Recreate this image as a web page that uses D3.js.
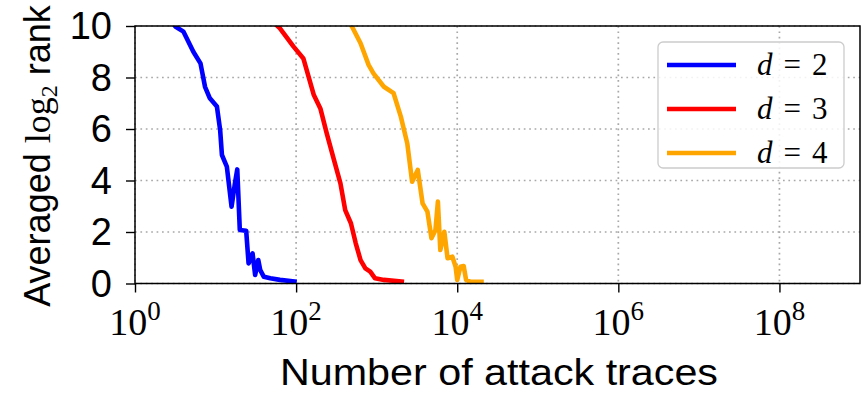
<!DOCTYPE html>
<html>
<head>
<meta charset="utf-8">
<script src="https://cdn.jsdelivr.net/npm/d3@7"></script>
<style>
  html, body { margin: 0; padding: 0; background: #fff; }
  svg { display: block; }
</style>
</head>
<body>
<svg id="chart" width="865" height="393"></svg>
<script>
// Averaged log2 key rank vs. number of attack traces, one curve per masking order d.
const tracesD2 = [2.5, 3.2, 4.0, 5.3, 6.5, 7.4, 8.5, 10.4, 11.4, 12, 13.8, 15.8, 17.4, 18.6, 20, 24, 25.7, 28.8, 31, 33.9, 35.9, 39.8, 47.9, 63, 102];
const rankD2   = [10.4, 9.97, 9.78, 9.0, 8.55, 7.64, 7.19, 6.87, 5.96, 4.99, 4.54, 2.98, 3.89, 4.43, 2.08, 2.05, 0.78, 1.17, 0.33, 0.91, 0.52, 0.26, 0.2, 0.14, 0.07];

const tracesD3 = [50, 63, 93, 123, 166, 200, 240, 295, 355, 407, 479, 550, 631, 724, 832, 955, 1230, 2190];
const rankD3   = [10.2, 9.91, 9.2, 8.74, 7.32, 6.8, 5.83, 4.8, 3.89, 2.85, 2.34, 1.56, 0.91, 0.59, 0.46, 0.2, 0.14, 0.07];

const tracesD4 = [447, 495, 631, 794, 912, 1230, 1622, 1995, 2400, 2754, 3236, 3715, 4266, 4786, 5370, 5754, 6166, 6918, 7586, 8710, 9550, 10000, 10965, 12023, 12882, 14454, 21380];
const rankD4   = [10.2, 9.97, 9.33, 8.49, 8.16, 7.64, 7.39, 6.48, 5.44, 3.95, 4.41, 3.11, 2.79, 1.76, 2.08, 3.18, 1.30, 2.01, 0.98, 1.04, 0.65, 0.14, 0.65, 0.68, 0.14, 0.07, 0.07];

const seriesNames  = ["2", "3", "4"];
const seriesColors = ["#0000ff", "#ff0000", "#ffa500"];

const xTickPowers = [0, 2, 4, 6, 8];
const yTicks = [0, 2, 4, 6, 8, 10];
const xDomain = [1, 1e9];
const yDomain = [0, 10];

const series = [
  { name: seriesNames[0], color: seriesColors[0], x: tracesD2, y: rankD2 },
  { name: seriesNames[1], color: seriesColors[1], x: tracesD3, y: rankD3 },
  { name: seriesNames[2], color: seriesColors[2], x: tracesD4, y: rankD4 }
];

const svg = d3.select("#chart");
const plot = { left: 135, right: 860, top: 26, bottom: 283.5 };

const x = d3.scaleLog().domain(xDomain).range([plot.left, plot.right]);
const y = d3.scaleLinear().domain(yDomain).range([plot.bottom, plot.top]);

const sansFont = "'Liberation Sans Narrow', 'Liberation Sans', 'DejaVu Sans', sans-serif";
const serifFont = "'Liberation Serif', 'DejaVu Serif', serif";

svg.append("defs").append("clipPath").attr("id", "plot-clip")
  .append("rect")
  .attr("x", plot.left).attr("y", plot.top)
  .attr("width", plot.right - plot.left).attr("height", plot.bottom - plot.top);

// dotted grid
const grid = svg.append("g").attr("stroke", "#a8a8a8").attr("stroke-width", 1.7)
  .attr("stroke-dasharray", "1.7,3.7");
grid.selectAll("line.gx").data(xTickPowers.map(p => Math.pow(10, p))).join("line")
  .attr("x1", d => x(d)).attr("x2", d => x(d))
  .attr("y1", plot.top).attr("y2", plot.bottom);
grid.selectAll("line.gy").data(yTicks).join("line")
  .attr("x1", plot.left).attr("x2", plot.right)
  .attr("y1", d => y(d)).attr("y2", d => y(d));

// curves
const line = d3.line().x(d => x(d[0])).y(d => y(d[1]));
svg.append("g").attr("clip-path", "url(#plot-clip)")
  .selectAll("path").data(series).join("path")
  .attr("d", s => line(s.x.map((v, i) => [v, s.y[i]])))
  .attr("fill", "none")
  .attr("stroke", s => s.color)
  .attr("stroke-width", 4.6)
  .attr("stroke-linejoin", "round")
  .attr("stroke-linecap", "butt");

// axes
const xAxis = d3.axisBottom(x)
  .tickValues(xTickPowers.map(p => Math.pow(10, p)))
  .tickSize(9).tickSizeOuter(0).tickFormat("");
const gx = svg.append("g").attr("transform", `translate(0,${plot.bottom})`).call(xAxis);
gx.select(".domain").remove();
gx.selectAll(".tick line").attr("stroke", "#000").attr("stroke-width", 1.4);

const yAxis = d3.axisLeft(y).tickValues(yTicks).tickSize(9).tickSizeOuter(0).tickFormat("");
const gy = svg.append("g").attr("transform", `translate(${plot.left},0)`).call(yAxis);
gy.select(".domain").remove();
gy.selectAll(".tick line").attr("stroke", "#000").attr("stroke-width", 1.4);

// x tick labels: 10 with superscript exponent
xTickPowers.forEach(p => {
  const t = svg.append("text")
    .attr("x", x(Math.pow(10, p)))
    .attr("y", 335)
    .attr("text-anchor", "middle")
    .attr("font-family", serifFont)
    .attr("font-size", 38)
    .attr("fill", "#000");
  t.append("tspan").text("10");
  t.append("tspan").attr("dy", -15).attr("font-size", 27).text(p);
});

// y tick labels
svg.append("g").selectAll("text").data(yTicks).join("text")
  .attr("x", 112)
  .attr("y", d => y(d) + 13)
  .attr("text-anchor", "end")
  .attr("font-family", sansFont)
  .attr("font-size", 38)
  .attr("fill", "#000")
  .text(d => d);

// frame
svg.append("rect")
  .attr("x", plot.left).attr("y", plot.top)
  .attr("width", plot.right - plot.left).attr("height", plot.bottom - plot.top)
  .attr("fill", "none").attr("stroke", "#000").attr("stroke-width", 1.5);

// axis titles
svg.append("text")
  .attr("x", 499).attr("y", 385)
  .attr("text-anchor", "middle")
  .attr("font-family", sansFont)
  .attr("font-size", 37)
  .attr("textLength", 438).attr("lengthAdjust", "spacingAndGlyphs")
  .attr("fill", "#000")
  .text("Number of attack traces");

const yl = svg.append("text")
  .attr("transform", "translate(50,156) rotate(-90)")
  .attr("text-anchor", "middle")
  .attr("font-family", sansFont)
  .attr("font-size", 36)
  .attr("fill", "#000");
yl.append("tspan").text("Averaged ");
yl.append("tspan").attr("font-family", serifFont).text("log");
yl.append("tspan").attr("font-family", serifFont).attr("font-size", 24).attr("dy", 7).text("2");
yl.append("tspan").attr("dy", -7).text(" rank");

// legend
const legend = svg.append("g");
legend.append("rect")
  .attr("x", 658).attr("y", 42).attr("width", 186).attr("height", 126)
  .attr("rx", 5).attr("ry", 5)
  .attr("fill", "#fff").attr("fill-opacity", 0.85)
  .attr("stroke", "#cccccc").attr("stroke-width", 1.3);
const rows = legend.selectAll("g.row").data(series).join("g")
  .attr("transform", (d, i) => `translate(0,${65 + i * 44})`);
rows.append("line")
  .attr("x1", 667).attr("x2", 736).attr("y1", 0).attr("y2", 0)
  .attr("stroke", d => d.color).attr("stroke-width", 4.6);
const lt = rows.append("text")
  .attr("x", 757).attr("y", 10)
  .attr("font-family", serifFont)
  .attr("font-size", 31)
  .attr("fill", "#000");
lt.append("tspan").attr("font-style", "italic").text("d");
lt.append("tspan").attr("dx", 11).text("=");
lt.append("tspan").attr("dx", 11).text(d => d.name);
</script>
</body>
</html>
